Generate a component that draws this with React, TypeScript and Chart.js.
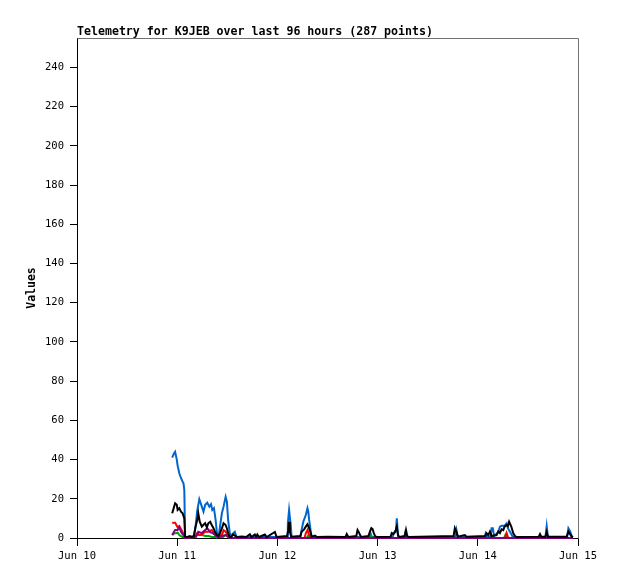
import React, { useEffect, useRef } from "react";
import { Chart, registerables } from "chart.js";

Chart.register(...registerables);

const chartTitle = "Telemetry for K9JEB over last 96 hours (287 points)";
const yAxisTitle = "Values";
const dayLabels = ["Jun 10", "Jun 11", "Jun 12", "Jun 13", "Jun 14", "Jun 15"];

// [hours since Jun 10 00:00, value]
const blueSeries: [number, number][] = [
  [22.8, 41], [23.2, 43], [23.5, 44], [23.9, 40], [24.1, 37], [24.5, 33], [24.9, 30.6], [25.3, 28.7],
  [25.5, 28], [25.7, 24.5], [25.9, 0.5], [28.0, 0.5], [28.4, 6], [28.8, 14], [29.3, 19.8], [29.9, 16],
  [30.3, 13.4], [30.7, 16.9], [31.2, 18], [31.7, 16], [32.1, 17.2], [32.4, 14.3], [32.8, 15.2], [33.2, 9.2],
  [33.6, 0.7], [34.0, 2], [34.7, 12.6], [35.1, 16], [35.6, 21], [35.9, 18.5], [36.2, 9.2], [36.6, 2.5],
  [37.0, 1], [37.4, 2.4], [37.8, 3.2], [38.2, 0.5], [50.3, 0.5], [50.5, 7.5], [50.8, 14.3], [51.2, 6.6],
  [51.4, 0.5], [53.5, 0.5], [53.8, 4.1], [54.2, 8.3], [54.8, 11.7], [55.2, 15.2], [55.4, 13.4], [55.6, 9.2],
  [56.0, 3.2], [56.2, 0.5], [70.0, 0.5], [70.3, 2.5], [70.6, 0.5], [75.6, 0.5], [75.9, 2.7], [76.4, 4],
  [76.6, 10], [76.9, 0.5], [78.4, 0.5], [78.6, 2.5], [78.9, 0.5], [90.6, 0.5], [90.9, 4], [91.2, 0.5],
  [97.6, 0.5], [97.9, 2.5], [98.3, 0.5], [99.1, 1], [99.3, 5], [99.6, 5], [99.9, 1], [100.9, 3],
  [101.3, 5.8], [101.7, 6.2], [102.4, 6.2], [102.9, 7.5], [103.2, 5], [103.5, 4], [104.0, 2], [104.4, 0.5],
  [112.2, 0.5], [112.5, 6.1], [112.8, 0.5], [117.4, 0.5], [117.7, 5], [118.1, 3.5], [118.5, 1], [118.8, 0.5],
];

const blackSeries: [number, number][] = [
  [22.8, 12.6], [23.5, 17.7], [23.9, 16.9], [24.1, 14.3], [24.5, 15.2], [24.9, 13.4], [25.3, 12.6], [25.7, 10],
  [25.9, 0.7], [26.5, 0.5], [27.0, 1], [27.5, 0.5], [28.0, 1], [28.4, 5.8], [28.8, 9.2], [29.05, 12.6],
  [29.4, 8.3], [29.9, 5.8], [30.25, 6.6], [30.7, 7.5], [31.1, 5.5], [31.45, 7.5], [31.9, 8.3], [32.3, 6.5],
  [32.7, 5], [33.05, 3.2], [33.5, 1.5], [33.8, 1], [34.25, 2.4], [34.8, 5.5], [35.1, 7.5], [35.6, 6.6],
  [35.9, 5], [36.2, 2.4], [36.6, 0.5], [37.0, 0.7], [37.4, 1.8], [37.8, 1.2], [38.3, 0.5], [39.5, 0.7],
  [40.5, 0.5], [41.4, 1.9], [41.8, 0.5], [42.6, 1.8], [42.9, 0.7], [43.2, 1.8], [43.6, 0.5], [45.0, 1.8],
  [45.4, 0.5], [47.4, 3.1], [47.8, 0.5], [50.3, 1], [50.6, 4], [50.8, 8.3], [51.0, 3], [51.3, 0.7],
  [53.5, 1], [53.8, 3.2], [54.4, 4.4], [54.8, 5.8], [55.2, 7], [55.6, 5], [56.0, 2.4], [56.2, 0.7],
  [57.0, 1.2], [57.5, 0.5], [60.0, 0.7], [64.3, 0.5], [64.6, 2], [65.0, 0.5], [66.9, 1], [67.2, 4.1],
  [67.5, 3], [67.8, 1.5], [68.1, 0.5], [69.8, 1], [70.2, 3.5], [70.5, 5], [70.8, 4.5], [71.1, 2.5],
  [71.4, 1], [71.8, 0.5], [75.1, 0.7], [75.4, 2.5], [75.8, 2], [76.2, 3], [76.6, 5.8], [76.9, 1.5],
  [77.2, 0.5], [78.5, 1], [78.8, 4.1], [79.1, 1], [79.5, 0.5], [90.2, 1], [90.5, 5], [90.9, 3],
  [91.2, 0.7], [92.9, 1.5], [93.3, 0.7], [97.8, 1], [98.1, 2.4], [98.5, 1.5], [98.9, 3.3], [99.3, 1],
  [100.5, 1.5], [100.9, 3.3], [101.3, 2.5], [101.7, 4.4], [102.1, 4], [102.4, 5.8], [102.9, 6.6], [103.2, 6],
  [103.5, 8.3], [104.0, 6], [104.5, 2.4], [104.9, 1], [105.3, 0.5], [110.6, 0.7], [110.9, 2], [111.2, 0.7],
  [112.2, 0.7], [112.5, 3.2], [112.8, 0.7], [117.3, 0.7], [117.7, 3.3], [118.1, 2], [118.5, 0.7], [118.8, 0.5],
];

const redSeries: [number, number][] = [
  [22.8, 7.8], [23.5, 7.8], [23.8, 6.6], [24.1, 5.5], [24.5, 6.1], [24.9, 4.6], [25.3, 3], [25.7, 1],
  [25.9, 0], [28.4, 1], [28.8, 2.4], [29.4, 1.5], [30.0, 2], [30.7, 3.2], [31.4, 3.2], [32.3, 4.1],
  [33.1, 1.5], [33.8, 0.5], [34.8, 2], [35.1, 4], [35.6, 3.2], [36.2, 1], [36.6, 0], [54.5, 0],
  [54.8, 2.4], [55.2, 4.1], [55.6, 1.5], [56.0, 0], [102.5, 0], [102.9, 2.6], [103.3, 0], [118.8, 0],
];

const greenSeries: [number, number][] = [
  [22.8, 1.5], [23.3, 2.4], [23.7, 2.4], [24.1, 2.8], [24.5, 1.5], [24.9, 1], [25.3, 0.5], [25.9, 0],
  [28.4, 0.5], [28.8, 1.5], [29.4, 1.5], [30.0, 1.5], [30.7, 1], [31.5, 1], [32.3, 0.5], [33.0, 0.5],
  [35.0, 0.5], [35.6, 1.5], [36.2, 0.5], [36.6, 0], [55.0, 0], [55.3, 1], [55.6, 0], [70.3, 0],
  [70.5, 1], [70.8, 0], [102.3, 0], [102.6, 1.5], [102.9, 0], [118.8, 0],
];

const purpleSeries: [number, number][] = [
  [22.8, 1.5], [23.5, 4.1], [24.1, 4.1], [24.5, 5.5], [24.9, 3.2], [25.3, 2], [25.9, 0], [28.4, 0.5],
  [29.05, 3.2], [29.9, 2.5], [30.7, 4.1], [31.2, 5], [31.9, 3], [32.5, 2.5], [33.1, 1.5], [33.8, 0.5],
  [34.8, 1], [35.6, 1.5], [36.2, 0.5], [36.6, 0], [118.8, 0],
];

const toPoints = (s: [number, number][]) => s.map(([x, y]) => ({ x, y }));

const framePlugin = {
  id: "frameAndTitle",
  afterDraw(chart: any) {
    const { ctx, chartArea } = chart;
    const { left, right, top, bottom } = chartArea;
    ctx.save();
    ctx.strokeStyle = "#707070";
    ctx.lineWidth = 1;
    ctx.beginPath();
    ctx.moveTo(Math.round(left) + 0.5, Math.round(top) + 0.5);
    ctx.lineTo(Math.round(right) + 0.5, Math.round(top) + 0.5);
    ctx.lineTo(Math.round(right) + 0.5, Math.round(bottom) + 0.5);
    ctx.stroke();
    ctx.fillStyle = "#000";
    ctx.font = 'bold 11.6px "DejaVu Sans Mono"';
    ctx.textAlign = "left";
    ctx.textBaseline = "alphabetic";
    ctx.fillText(chartTitle, left, top - 3);
    ctx.restore();
  },
};

export default function App() {
  const ref = useRef<HTMLCanvasElement>(null);
  useEffect(() => {
    if (!ref.current) return;
    const mk = (label: string, data: [number, number][], color: string, order: number) => ({
      label,
      data: toPoints(data),
      borderColor: color,
      backgroundColor: color,
      borderWidth: 2,
      pointRadius: 0,
      tension: 0,
      clip: false as any,
      order,
    });
    const chart = new Chart(ref.current, {
      type: "line",
      data: {
        datasets: [
          mk("blue", blueSeries, "#0066cc", 5),
          mk("green", greenSeries, "#00a000", 4),
          mk("red", redSeries, "#ff0000", 3),
          mk("purple", purpleSeries, "#800080", 2),
          mk("black", blackSeries, "#000000", 1),
        ],
      },
      options: {
        responsive: false,
        animation: false,
        layout: { padding: { top: 38, right: 40, bottom: 0, left: 0 } },
        plugins: { legend: { display: false }, tooltip: { enabled: false }, title: { display: false } },
        scales: {
          x: {
            type: "linear",
            min: 0,
            max: 120,
            afterFit: (s: any) => { s.height = 41; },
            grid: { drawOnChartArea: false, drawTicks: true, tickLength: 8, tickColor: "#000" },
            border: { color: "#000", width: 1 },
            ticks: {
              stepSize: 24,
              autoSkip: false,
              maxRotation: 0,
              padding: 4,
              color: "#000",
              font: { family: '"DejaVu Sans Mono"', size: 10.5 },
              callback: (v: any) => dayLabels[Math.round(Number(v) / 24)] ?? "",
            },
          },
          y: {
            type: "linear",
            min: 0,
            max: 255,
            afterFit: (s: any) => { s.width = 77; },
            grid: { drawOnChartArea: false, drawTicks: true, tickLength: 7, tickColor: "#000" },
            border: { color: "#000", width: 1 },
            title: {
              display: true,
              text: yAxisTitle,
              color: "#000",
              font: { family: '"DejaVu Sans Mono"', size: 11.5, weight: "bold" },
              padding: { top: 25, bottom: 0 },
            },
            ticks: {
              stepSize: 20,
              includeBounds: false,
              padding: 6,
              color: "#000",
              font: { family: '"DejaVu Sans Mono"', size: 10.5 },
            },
          },
        },
      },
      plugins: [framePlugin],
    });
    return () => chart.destroy();
  }, []);
  return (
    <div style={{ position: "absolute", left: 0, top: 0, width: 618, height: 579, background: "#fff" }}>
      <canvas ref={ref} width={618} height={579} style={{ display: "block" }} />
    </div>
  );
}
